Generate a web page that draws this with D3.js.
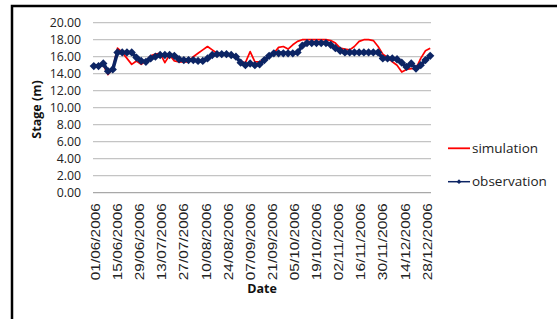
<!DOCTYPE html>
<html>
<head>
<meta charset="utf-8">
<script src="https://cdn.jsdelivr.net/npm/d3@7"></script>
<style>
    body { margin: 0; background: #fff; }
    svg { display: block; }
    .tick-y { font-family: "Open Sans", sans-serif; font-size: 12.3px; fill: #222; }
    .tick-x { font-family: "Liberation Sans", sans-serif; font-size: 12px; fill: #222; }
    .axis-title { font-family: "Open Sans", sans-serif; font-size: 12.5px; font-weight: bold; fill: #111; }
    .legend { font-family: "Open Sans", sans-serif; font-size: 13.5px; fill: #222; }
</style>
</head>
<body>
<svg id="chart" width="557" height="319"></svg>
<script>
// stage values, one every 3 days from 01/06/2006 to 31/12/2006
const startDate = "01/06/2006";
const stepDays = 3;

const simulation = [
    14.9, 14.9, 15.0, 13.9, 14.6, 17.0, 16.5, 15.8, 15.1, 15.5, 15.1, 15.5,
    16.1, 16.3, 16.4, 15.3, 16.2, 15.5, 15.4, 15.4, 15.4, 16.0, 16.4, 16.8,
    17.2, 16.8, 16.4, 16.3, 16.3, 16.2, 15.8, 15.4, 15.3, 16.6, 15.4, 15.4,
    15.7, 16.0, 16.4, 17.1, 17.2, 16.9, 17.4, 17.8, 18.0, 18.0, 18.0, 18.0,
    18.0, 18.0, 17.9, 17.6, 17.0, 16.9, 16.8, 17.2, 17.8, 18.0, 18.0, 17.9,
    17.2, 16.3, 15.9, 15.4, 15.0, 14.2, 14.5, 14.6, 14.6, 15.8, 16.7, 17.0
];

const observation = [
    14.9, 14.9, 15.2, 14.3, 14.5, 16.5, 16.5, 16.5, 16.5, 15.9, 15.5, 15.4,
    15.8, 16.0, 16.2, 16.2, 16.2, 16.1, 15.7, 15.6, 15.6, 15.6, 15.5, 15.5,
    15.8, 16.2, 16.3, 16.3, 16.3, 16.2, 16.0, 15.3, 15.0, 15.2, 15.0, 15.1,
    15.6, 16.1, 16.4, 16.4, 16.4, 16.4, 16.4, 16.5, 17.3, 17.6, 17.6, 17.6,
    17.6, 17.6, 17.4, 17.0, 16.7, 16.5, 16.5, 16.5, 16.5, 16.5, 16.5, 16.5,
    16.5, 15.8, 15.8, 15.8, 15.7, 15.3, 14.8, 15.2, 14.6, 15.0, 15.6, 16.1
];

const yTicks = [0, 2, 4, 6, 8, 10, 12, 14, 16, 18, 20];

const tickLabels = [
    "01/06/2006", "15/06/2006", "29/06/2006", "13/07/2006", "27/07/2006",
    "10/08/2006", "24/08/2006", "07/09/2006", "21/09/2006", "05/10/2006",
    "19/10/2006", "02/11/2006", "16/11/2006", "30/11/2006", "14/12/2006",
    "28/12/2006"
];

const seriesNames = ["simulation", "observation"];
const seriesColors = ["#ff0000", "#0c2464"];

const parse = d3.timeParse("%d/%m/%Y");
const start = parse(startDate);
const dates = simulation.map((d, i) => d3.timeDay.offset(start, i * stepDays));

const svg = d3.select("#chart");

// frame
svg.append("path")
    .attr("d", "M12,330 V6 H570")
    .attr("fill", "none")
    .attr("stroke", "#000")
    .attr("stroke-width", 2.5);

const plot = { left: 93, right: 431, top: 22.7, bottom: 192.7 };

const x = d3.scaleTime()
    .domain([start, parse("31/12/2006")])
    .range([plot.left + 0.8, plot.right - 0.8]);

const y = d3.scaleLinear()
    .domain([0, 20])
    .range([plot.bottom, plot.top]);

// gridlines
svg.append("g")
    .selectAll("line")
    .data(yTicks)
    .join("line")
    .attr("x1", plot.left)
    .attr("x2", plot.right)
    .attr("y1", d => y(d))
    .attr("y2", d => y(d))
    .attr("stroke", d => d === 0 ? "#a8a8a8" : "#c4c4c4")
    .attr("stroke-width", 1.2);

// y axis labels
const yAxis = svg.append("g")
    .attr("transform", `translate(${plot.left - 12},0)`)
    .call(d3.axisLeft(y).tickValues(yTicks).tickFormat(d3.format(".2f")).tickSize(0).tickPadding(0));
yAxis.select(".domain").remove();
yAxis.selectAll("text").attr("class", "tick-y").attr("fill", null);
yAxis.attr("font-size", null).attr("font-family", null);

// x axis labels
const xAxis = svg.append("g")
    .attr("transform", `translate(0,${plot.bottom})`)
    .call(d3.axisBottom(x).tickValues(tickLabels.map(parse)).tickFormat(d3.timeFormat("%d/%m/%Y")).tickSize(0));
xAxis.select(".domain").remove();
xAxis.attr("font-size", null).attr("font-family", null);
xAxis.selectAll("text")
    .attr("class", "tick-x")
    .attr("fill", null)
    .attr("transform", "rotate(-90)")
    .attr("text-anchor", "end")
    .attr("x", -10.5)
    .attr("y", 1.5)
    .attr("dy", "0.35em")
    .attr("textLength", 77)
    .attr("lengthAdjust", "spacingAndGlyphs");

// axis titles
svg.append("text")
    .attr("class", "axis-title")
    .attr("transform", "translate(41,109.5) rotate(-90)")
    .attr("text-anchor", "middle")
    .text("Stage (m)");

svg.append("text")
    .attr("class", "axis-title")
    .attr("x", 262)
    .attr("y", 293)
    .attr("text-anchor", "middle")
    .text("Date");

// series
const line = d3.line()
    .x((d, i) => x(dates[i]))
    .y(d => y(d));

svg.append("path")
    .datum(simulation)
    .attr("fill", "none")
    .attr("stroke", seriesColors[0])
    .attr("stroke-width", 1.7)
    .attr("stroke-linejoin", "round")
    .attr("d", line);

svg.append("path")
    .datum(observation)
    .attr("fill", "none")
    .attr("stroke", seriesColors[1])
    .attr("stroke-width", 3.5)
    .attr("stroke-linejoin", "round")
    .attr("d", line);

const diamond = d3.symbol().type(d3.symbolDiamond2).size(44);

svg.append("g")
    .selectAll("path")
    .data(observation)
    .join("path")
    .attr("transform", (d, i) => `translate(${x(dates[i])},${y(d)})`)
    .attr("d", diamond)
    .attr("fill", seriesColors[1]);

// legend
const legend = svg.append("g");
const legendY = [148.3, 181.7];

seriesNames.forEach((name, i) => {
    legend.append("line")
        .attr("x1", 448)
        .attr("x2", 470)
        .attr("y1", legendY[i])
        .attr("y2", legendY[i])
        .attr("stroke", seriesColors[i])
        .attr("stroke-width", i === 0 ? 1.8 : 1.5);
    if (i === 1) {
        legend.append("path")
            .attr("transform", `translate(459,${legendY[i]})`)
            .attr("d", d3.symbol().type(d3.symbolDiamond2).size(14))
            .attr("fill", seriesColors[i]);
    }
    legend.append("text")
        .attr("class", "legend")
        .attr("x", 472)
        .attr("y", legendY[i] + 4.6)
        .text(name);
});
</script>
</body>
</html>
